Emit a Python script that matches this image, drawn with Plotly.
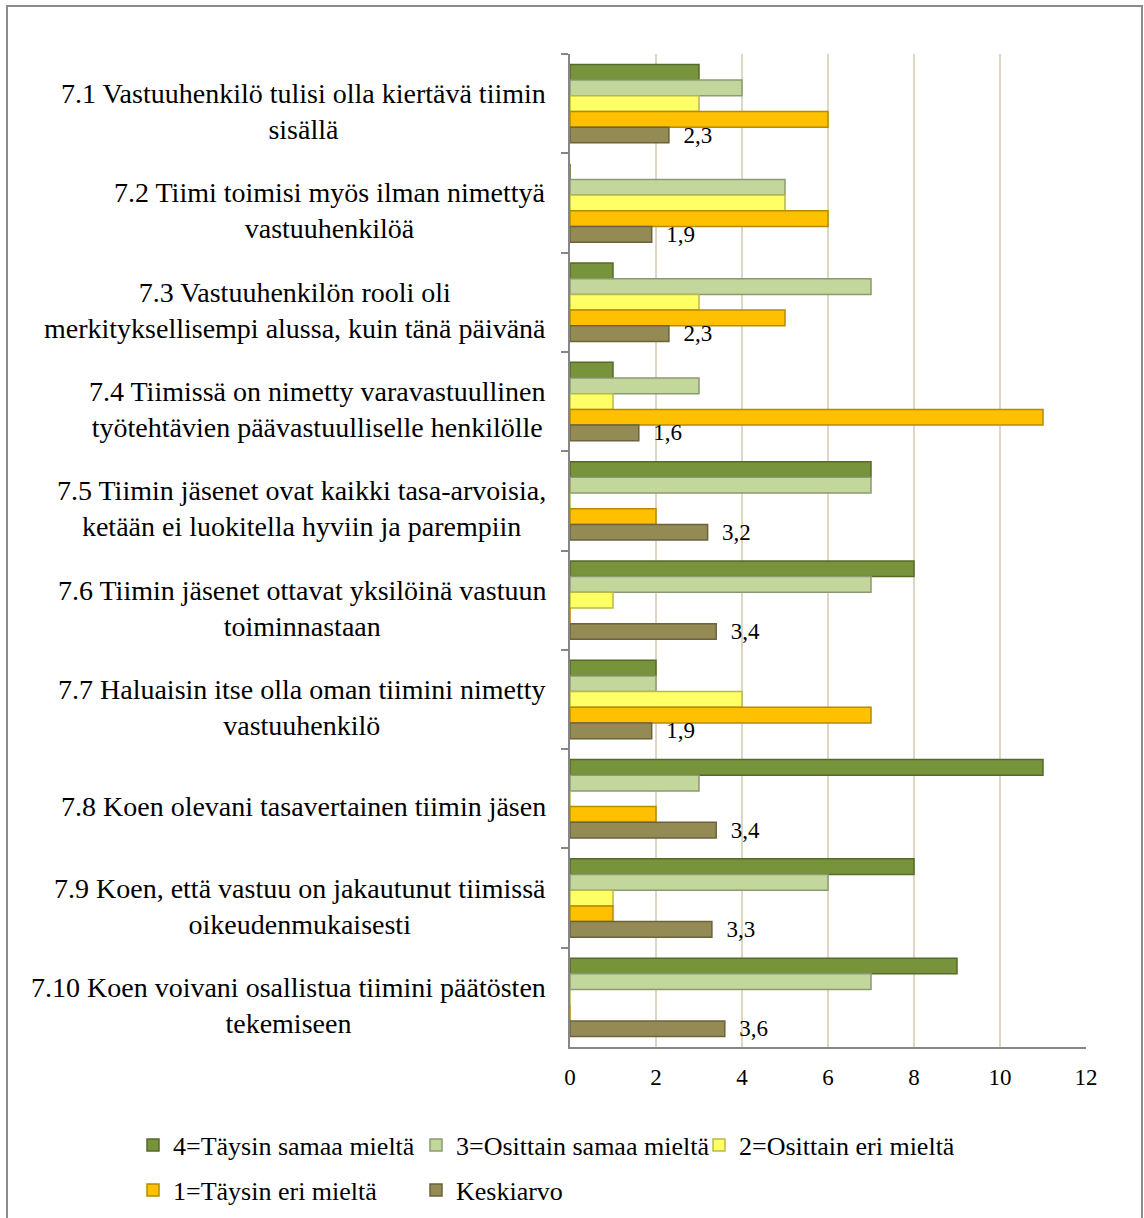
import plotly.graph_objects as go

categories = [
    "7.1 Vastuuhenkilö tulisi olla kiertävä tiimin<br>sisällä",
    "7.2 Tiimi toimisi myös ilman nimettyä<br>vastuuhenkilöä",
    "7.3 Vastuuhenkilön rooli oli<br>merkityksellisempi alussa, kuin tänä päivänä",
    "7.4 Tiimissä on nimetty varavastuullinen<br>työtehtävien päävastuulliselle henkilölle",
    "7.5 Tiimin jäsenet ovat kaikki tasa-arvoisia,<br>ketään ei luokitella hyviin ja parempiin",
    "7.6 Tiimin jäsenet ottavat yksilöinä vastuun<br>toiminnastaan",
    "7.7 Haluaisin itse olla oman tiimini nimetty<br>vastuuhenkilö",
    "7.8 Koen olevani tasavertainen tiimin jäsen",
    "7.9 Koen, että vastuu on jakautunut tiimissä<br>oikeudenmukaisesti",
    "7.10 Koen voivani osallistua tiimini päätösten<br>tekemiseen",
]
cat_ids = ["q7.1", "q7.2", "q7.3", "q7.4", "q7.5", "q7.6", "q7.7", "q7.8", "q7.9", "q7.10"]

s4 = [3, 0, 1, 1, 7, 8, 2, 11, 8, 9]
s3 = [4, 5, 7, 3, 7, 7, 2, 3, 6, 7]
s2 = [3, 5, 3, 1, 0, 1, 4, 0, 1, 0]
s1 = [6, 6, 5, 11, 2, 0, 7, 2, 1, 0]
mean = [2.3, 1.9, 2.3, 1.6, 3.2, 3.4, 1.9, 3.4, 3.3, 3.6]

series = [
    ("4=Täysin samaa mieltä", s4, "#77933C", "#566B2A", "legend"),
    ("3=Osittain samaa mieltä", s3, "#C3D69B", "#8C9A70", "legend"),
    ("2=Osittain eri mieltä", s2, "#FFFF66", "#B8B84A", "legend"),
    ("1=Täysin eri mieltä", s1, "#FFC000", "#B88A00", "legend2"),
    ("Keskiarvo", mean, "#948A54", "#6A633C", "legend2"),
]

FONT = "Liberation Serif, Times New Roman, serif"

fig = go.Figure()
for name, vals, col, edge, lg in series:
    kw = {}
    if name == "Keskiarvo":
        kw = dict(texttemplate="\u00a0\u00a0%{x:.1f}", textposition="outside",
                  constraintext="none",
                  textfont=dict(family=FONT, size=23, color="black"), cliponaxis=False)
    fig.add_trace(go.Bar(
        y=cat_ids, x=vals, name=name, orientation="h",
        marker=dict(color=col, line=dict(color=edge, width=1.5)),
        legend=lg, hoverinfo="x+name", **kw))

annotations = []
for i, lab in enumerate(categories):
    annotations.append(dict(
        xref="paper", yref="y", x=0, y=cat_ids[i], text=lab, showarrow=False,
        xanchor="right", yanchor="middle", align="center", xshift=-22, yshift=-8,
        font=dict(family=FONT, size=28, color="black")))

# plot area in pixels: x 570..1086, y 54..1047
pw, ph = 516.0, 993.0
def px_x(p):
    return (p - 570) / pw
def px_y(p):
    return (1047 - p) / ph

fig.update_layout(
    width=1144, height=1218,
    margin=dict(l=570, r=58, t=54, b=171, autoexpand=False),
    paper_bgcolor="white", plot_bgcolor="white",
    barmode="group", bargap=0.21, bargroupgap=0,
    separators=", ",
    font=dict(family=FONT, size=22, color="black"),
    xaxis=dict(range=[0, 12], dtick=2, showgrid=True, gridcolor="#DDD8C3", gridwidth=2,
               showline=True, linecolor="#868686", linewidth=2, zeroline=False,
               ticks="", ticklabelstandoff=8,
               tickfont=dict(family=FONT, size=23, color="black")),
    yaxis=dict(type="category", autorange="reversed", showticklabels=False, ticks="outside",
               tickson="boundaries", ticklen=7, tickcolor="#868686", tickwidth=1.5,
               showline=True, linecolor="#868686", linewidth=2, showgrid=False),
    legend=dict(orientation="h", xref="paper", yref="paper",
                x=px_x(133), y=px_y(1145), xanchor="left", yanchor="middle",
                entrywidth=238, entrywidthmode="pixels",
                font=dict(family=FONT, size=26, color="black"), traceorder="normal"),
    legend2=dict(orientation="h", xref="paper", yref="paper",
                 x=px_x(133), y=px_y(1190), xanchor="left", yanchor="middle",
                 entrywidth=238, entrywidthmode="pixels",
                 font=dict(family=FONT, size=26, color="black"), traceorder="normal"),
    annotations=annotations,
    shapes=[dict(type="rect", xref="paper", yref="paper", layer="below",
                 x0=px_x(7), x1=px_x(1142), y0=px_y(1230), y1=px_y(6),
                 line=dict(color="#8C8C8C", width=2), fillcolor="rgba(0,0,0,0)")],
    showlegend=True,
)

fig.write_html("out.html", config={"displayModeBar": False},
               post_script="document.body.style.margin='0';document.body.style.overflow='hidden';")
